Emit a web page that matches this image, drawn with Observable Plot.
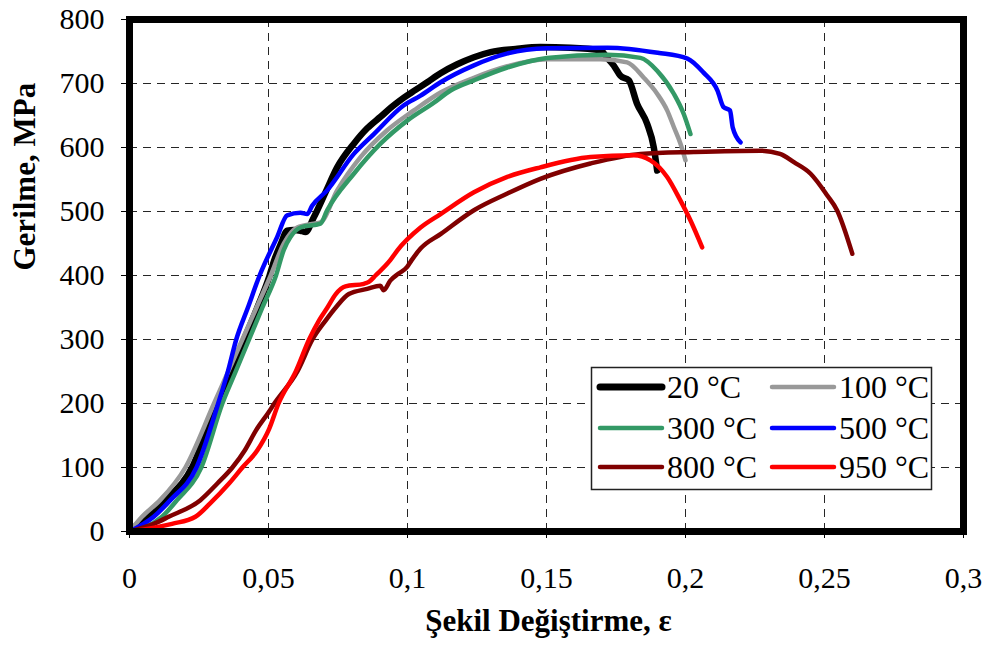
<!DOCTYPE html>
<html>
<head>
<meta charset="utf-8">
<script src="https://cdn.jsdelivr.net/npm/d3@7"></script>
<script src="https://cdn.jsdelivr.net/npm/@observablehq/plot@0.6"></script>
<style>
  html, body { margin: 0; padding: 0; background: #fff; }
  #chart { position: relative; width: 989px; height: 655px; }
</style>
</head>
<body>
<div id="chart"></div>
<script>
// Stress–strain curves of the steel at several test temperatures
const temperatures = ["20 °C", "100 °C", "300 °C", "500 °C", "800 °C", "950 °C"];

const strain20 = [0, 0.0063, 0.0129, 0.0225, 0.0312, 0.0365, 0.0412, 0.046, 0.0504, 0.052, 0.0545, 0.0567, 0.059, 0.0615, 0.0633, 0.0663, 0.0705, 0.0747, 0.0807, 0.0855, 0.0903, 0.0945, 0.0987, 0.1029, 0.1071, 0.1119, 0.1179, 0.1239, 0.1299, 0.1389, 0.1478, 0.1586, 0.1694, 0.1718, 0.1742, 0.1766, 0.1796, 0.1826, 0.1862, 0.1886, 0.1898];
const stress20 = [0, 23, 49, 100, 200, 250, 300, 350, 400, 423, 450, 470, 471, 470, 468, 491, 530, 569, 606, 630, 648, 664, 678, 690, 702, 716, 730, 741, 749, 754, 757, 756, 752, 740, 728, 712, 705, 668, 637, 600, 564];

const strain100 = [0, 0.0045, 0.011, 0.0201, 0.0304, 0.0355, 0.0406, 0.0457, 0.0508, 0.0555, 0.0603, 0.0663, 0.0687, 0.0747, 0.0831, 0.0927, 0.1023, 0.1119, 0.1239, 0.1359, 0.1502, 0.1694, 0.179, 0.185, 0.1898, 0.1934, 0.1958, 0.1982, 0.2];
const stress100 = [0, 23, 49, 100, 200, 250, 300, 350, 400, 450, 475, 481, 483, 533, 585, 627, 658, 686, 709, 727, 738, 738, 733, 709, 684, 658, 632, 606, 580];

const strain300 = [0, 0.0117, 0.0171, 0.0258, 0.0334, 0.0382, 0.043, 0.0478, 0.0527, 0.0555, 0.0579, 0.0615, 0.0687, 0.0711, 0.0807, 0.0903, 0.0999, 0.1095, 0.1155, 0.1239, 0.1359, 0.1502, 0.1718, 0.1838, 0.1898, 0.1958, 0.1994, 0.2018];
const stress300 = [0, 23, 49, 100, 200, 250, 300, 350, 400, 440, 460, 475, 481, 502, 559, 606, 642, 670, 689, 705, 725, 740, 745, 740, 720, 684, 652, 621];

const strain500 = [0, 0.0087, 0.0147, 0.0241, 0.0319, 0.0354, 0.0384, 0.0426, 0.0468, 0.0531, 0.0567, 0.0615, 0.0639, 0.0657, 0.0711, 0.0807, 0.0879, 0.0987, 0.1047, 0.1119, 0.1237, 0.136, 0.150, 0.172, 0.190, 0.2007, 0.2065, 0.2115, 0.2137, 0.216, 0.217, 0.2198];
const stress500 = [0, 23, 49, 100, 200, 250, 300, 350, 400, 460, 494, 498, 496, 509, 533, 590, 621, 666, 681, 702, 728, 747, 755, 756, 748, 739, 717, 689, 663, 658, 631, 608];

const strain800 = [0, 0.0087, 0.0141, 0.0255, 0.0316, 0.037, 0.0415, 0.0455, 0.05, 0.0521, 0.0605, 0.0658, 0.0706, 0.0742, 0.0789, 0.0855, 0.0902, 0.0914, 0.0938, 0.0968, 0.0998, 0.1015, 0.1047, 0.112, 0.1239, 0.1359, 0.1478, 0.1658, 0.1838, 0.203, 0.227, 0.234, 0.239, 0.245, 0.251, 0.2545, 0.26];
const stress800 = [0, 12, 23, 49, 75, 100, 127, 158, 186, 200, 251, 300, 330, 350, 371, 379, 384, 377, 392, 403, 413, 424, 442, 465, 502, 528, 551, 575, 590, 593, 595, 590, 577, 559, 525, 502, 434];

const strain950 = [0, 0.0153, 0.0237, 0.029, 0.0358, 0.0406, 0.046, 0.0502, 0.0536, 0.0599, 0.0646, 0.0682, 0.0712, 0.0742, 0.0777, 0.0843, 0.0861, 0.0885, 0.0938, 0.0963, 0.1047, 0.1119, 0.1239, 0.1359, 0.1478, 0.1658, 0.1814, 0.1874, 0.1934, 0.1982, 0.2018, 0.206];
const stress950 = [0, 12, 23, 44, 75, 100, 127, 160, 200, 251, 300, 330, 350, 371, 383, 387, 390, 400, 424, 439, 475, 496, 530, 554, 569, 585, 588, 580, 554, 517, 486, 444];

const xTicks = [0, 0.05, 0.1, 0.15, 0.2, 0.25, 0.3];
const yTicks = [0, 100, 200, 300, 400, 500, 600, 700, 800];

const colors = ["#000000", "#999999", "#339966", "#0000ff", "#800000", "#ff0000"];
const widths = [6.5, 4.5, 4.5, 4.5, 4.5, 4.5];

const strains = [strain20, strain100, strain300, strain500, strain800, strain950];
const stresses = [stress20, stress100, stress300, stress500, stress800, stress950];

const series = temperatures.map((t, i) =>
  strains[i].map((e, j) => ({temp: t, strain: e, stress: stresses[i][j]}))
);

const comma = d => String(d).replace(".", ",");
const dash = "8,6";
const serif = "'Liberation Serif', 'Times New Roman', serif";

const chart = Plot.plot({
  width: 989,
  height: 655,
  marginLeft: 129,
  marginRight: 26,
  marginTop: 19,
  marginBottom: 124,
  style: {fontFamily: serif, background: "#fff", color: "#000"},
  x: {domain: [0, 0.3]},
  y: {domain: [0, 800]},
  marks: [
    Plot.gridX(xTicks.slice(1, -1), {stroke: "#000", strokeOpacity: 0.85, strokeWidth: 1, strokeDasharray: dash}),
    Plot.gridY(yTicks.slice(1, -1), {stroke: "#000", strokeOpacity: 0.85, strokeWidth: 1, strokeDasharray: dash}),
    ...series.map((s, i) => Plot.line(s, {
      x: "strain", y: "stress",
      curve: "monotone-x",
      stroke: colors[i], strokeWidth: widths[i],
      strokeLinejoin: "round", strokeLinecap: "round"
    })),
    Plot.frame({stroke: "#000", strokeWidth: 7}),
    Plot.axisX(xTicks, {tickSize: 7, tickPadding: 28, fontSize: 30, tickFormat: comma, label: null, stroke: "#000"}),
    Plot.axisY(yTicks, {tickSize: 8, tickPadding: 17, fontSize: 30, label: null, stroke: "#000"}),
    Plot.text(["Gerilme, MPa"], {frameAnchor: "left", dx: -104, dy: -5, rotate: -90, fontSize: 31, fontWeight: "bold", fill: "#000"}),
    Plot.text(["Şekil Değiştirme, ε"], {frameAnchor: "bottom", dx: 2, dy: 99, fontSize: 31, fontWeight: "bold", fill: "#000"})
  ]
});

document.getElementById("chart").appendChild(chart);

// Legend: two columns, three rows, boxed inside the lower right of the plot
const svg = d3.select(chart);
const lg = svg.append("g").attr("class", "legend").attr("text-anchor", "start");
lg.append("rect")
  .attr("x", 591.5).attr("y", 367.5).attr("width", 340).attr("height", 122)
  .attr("fill", "#fff").attr("stroke", "#222").attr("stroke-width", 1.5);
const colX = [600, 772];
const rowY = [387, 428, 467];
temperatures.forEach((t, i) => {
  const cx = colX[i % 2], cy = rowY[Math.floor(i / 2)];
  lg.append("line")
    .attr("x1", cx).attr("x2", cx + 62).attr("y1", cy).attr("y2", cy)
    .attr("stroke", colors[i]).attr("stroke-width", i === 0 ? 7 : 4.5)
    .attr("stroke-linecap", "round");
  lg.append("text")
    .attr("x", cx + 67).attr("y", cy + 11)
    .attr("text-anchor", "start")
    .attr("font-family", serif)
    .attr("font-size", 32).attr("fill", "#000")
    .text(t);
});
</script>
</body>
</html>
